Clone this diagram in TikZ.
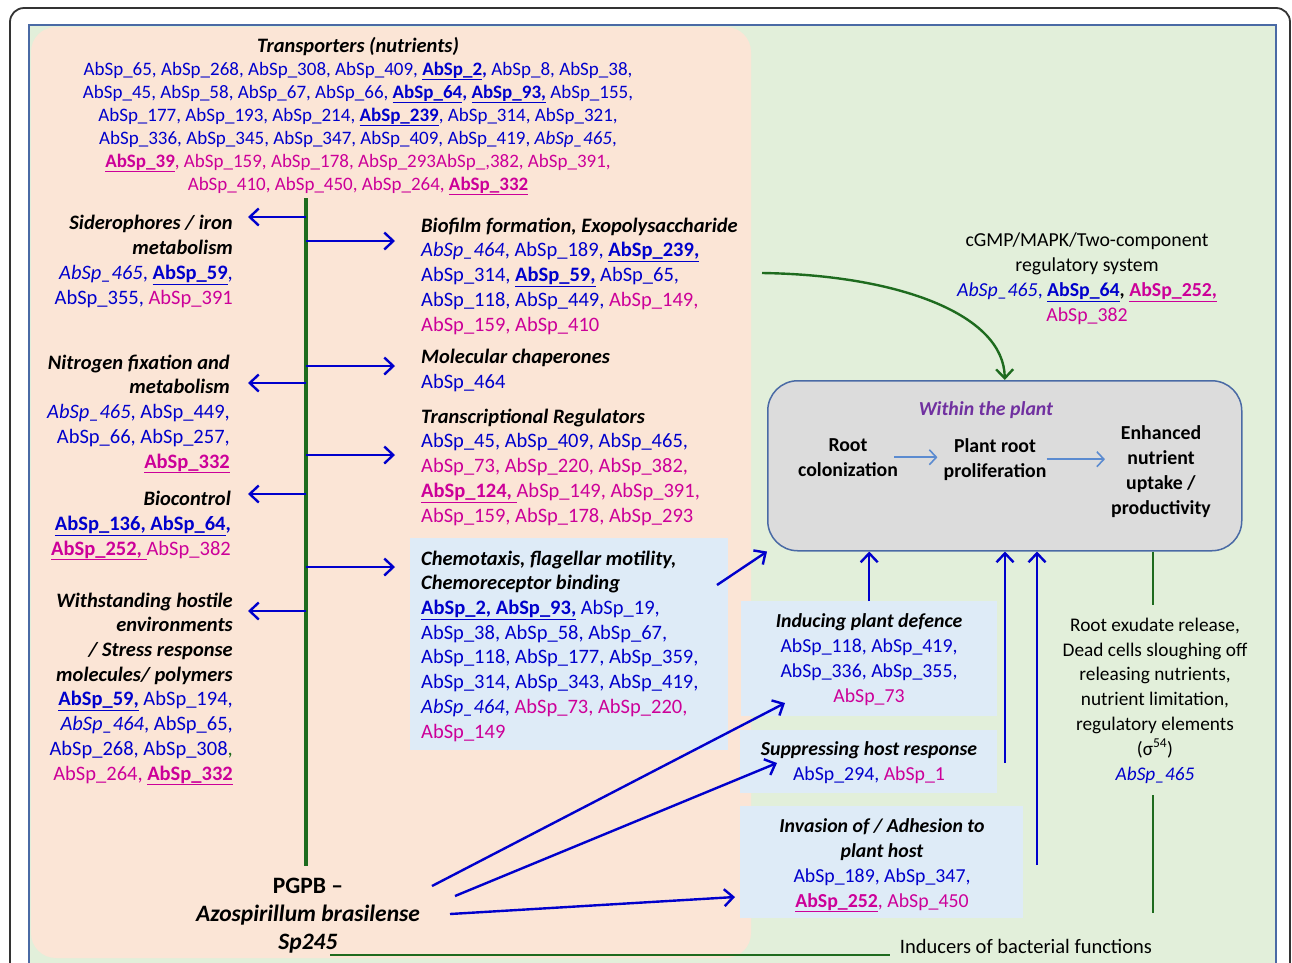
\documentclass[tikz,border=0pt]{standalone}
\usepackage{fontspec}
\setmainfont{Carlito}
\usepackage{xcolor}
\usetikzlibrary{arrows.meta}

\definecolor{abblue}{HTML}{0000CC}
\definecolor{abmag}{HTML}{CC0099}
\definecolor{abgreen}{HTML}{1E6B1E}
\definecolor{peach}{HTML}{FBE5D6}
\definecolor{leaf}{HTML}{E2EFDA}
\definecolor{paleblue}{HTML}{DEEBF7}
\definecolor{plantgray}{HTML}{DCDCDC}
\definecolor{frameblue}{HTML}{4A6AA5}
\definecolor{lightarrow}{HTML}{5B8BD0}
\definecolor{purpletitle}{HTML}{7030A0}

\newcommand{\bl}[1]{\textcolor{abblue}{#1}}
\newcommand{\mg}[1]{\textcolor{abmag}{#1}}
\newcommand{\ubf}[1]{\underline{\textbf{#1}}}
\newcommand{\ttl}[1]{\textbf{\textit{#1}}}

\begin{document}
\begin{tikzpicture}[x=1pt, y=-1pt,
    txt/.style={inner sep=0pt, font=\fontsize{20.5}{24.7}\selectfont},
    rtxt/.style={inner sep=0pt, font=\fontsize{19.8}{24.8}\selectfont},
    bluebox/.style={fill=paleblue, inner sep=0pt, anchor=north west},
    barrow/.style={draw=abblue, line width=2.4pt, -{Straight Barb[length=9pt,width=17pt]}},
    lbarrow/.style={draw=lightarrow, line width=1.6pt, -{Straight Barb[length=7pt,width=15pt]}},
    grline/.style={draw=abgreen, line width=2.4pt}]
    \useasboundingbox (0,0) rectangle (1292,962);

    % Backgrounds
    \draw[line width=1.8pt, draw=black!80, rounded corners=14] (10,1000) -- (10,8) -- (1290,8) -- (1290,1000);
    \draw[fill=leaf, draw=frameblue, line width=1.5pt] (29,25) rectangle (1276,1000);
    \fill[peach, rounded corners=25] (31,27) rectangle (751,958);

    % Boxes
    \node[bluebox, minimum width=318, minimum height=212] (chemobox) at (410,538) {};
    \node[bluebox, minimum width=256, minimum height=115] (induce) at (741,601) {};
    \node[bluebox, minimum width=257, minimum height=63] (supp) at (740,730) {};
    \node[bluebox, minimum width=283, minimum height=112] (invade) at (740,806) {};
    \node[draw=frameblue, line width=1.5pt, fill=plantgray, rounded corners=30,
          minimum width=474, minimum height=170, anchor=north west] (plant) at (767,380) {};

    % Bacterial functions (base = last line)
    \node[txt, font=\fontsize{19}{23}\selectfont, align=center, anchor=base] (trans) at (358,190)
        {\ttl{\fontsize{20.5}{23}\selectfont Transporters (nutrients)}\\
         \bl{AbSp\_65, AbSp\_268, AbSp\_308, AbSp\_409, \ubf{AbSp\_2}\textbf{,} AbSp\_8, AbSp\_38,}\\
         \bl{AbSp\_45, AbSp\_58, AbSp\_67, AbSp\_66, \ubf{AbSp\_64}\textbf{,} \ubf{AbSp\_93,} AbSp\_155,}\\
         \bl{AbSp\_177, AbSp\_193, AbSp\_214, \ubf{AbSp\_239}, AbSp\_314, AbSp\_321,}\\
         \bl{AbSp\_336, AbSp\_345, AbSp\_347, AbSp\_409, AbSp\_419, \textit{AbSp\_465},}\\
         \mg{\ubf{AbSp\_39}, AbSp\_159, AbSp\_178, AbSp\_293AbSp\_,382, AbSp\_391,}\\
         \mg{AbSp\_410, AbSp\_450, AbSp\_264, \ubf{AbSp\_332}}};
    \node[txt, align=right, anchor=base east] (sidero) at (233,304)
        {\ttl{Siderophores / iron}\\ \ttl{metabolism}\\
         \bl{\textit{AbSp\_465}, \ubf{AbSp\_59},}\\ \bl{AbSp\_355,} \mg{AbSp\_391}};
    \node[txt, align=right, anchor=base east] (nitro) at (230,468)
        {\ttl{Nitrogen fixation and}\\ \ttl{metabolism}\\
         \bl{\textit{AbSp\_465}, AbSp\_449,}\\ \bl{AbSp\_66, AbSp\_257,}\\ \mg{\ubf{AbSp\_332}}};
    \node[txt, align=right, anchor=base east] (bioctl) at (231,555)
        {\ttl{Biocontrol}\\ \bl{\ubf{AbSp\_136, AbSp\_64}\textbf{,}}\\ \mg{\ubf{AbSp\_252, }AbSp\_382}};
    \node[txt, align=right, anchor=base east] (hostile) at (233,780)
        {\ttl{Withstanding hostile}\\ \ttl{environments}\\ \ttl{/ Stress response}\\ \ttl{molecules/ polymers}\\
         \bl{\ubf{AbSp\_59,} AbSp\_194,}\\ \bl{\textit{AbSp\_464}, AbSp\_65,}\\
         \bl{AbSp\_268, AbSp\_308}\textcolor{abgreen}{,}\\ \mg{AbSp\_264, \ubf{AbSp\_332}}};
    \node[txt, align=left, anchor=base west] (biofilm) at (421,331)
        {\ttl{Biofilm formation, Exopolysaccharide}\\
         \bl{\textit{AbSp\_464}, AbSp\_189, \ubf{AbSp\_239,}}\\
         \bl{AbSp\_314, \ubf{AbSp\_59,} AbSp\_65,}\\
         \bl{AbSp\_118, AbSp\_449,} \mg{AbSp\_149,}\\
         \mg{AbSp\_159, AbSp\_410}};
    \node[txt, align=left, anchor=base west] (chaper) at (421,388)
        {\ttl{Molecular chaperones}\\ \bl{AbSp\_464}};
    \node[txt, align=left, anchor=base west] (transreg) at (421,522)
        {\ttl{Transcriptional Regulators}\\
         \bl{AbSp\_45, AbSp\_409, AbSp\_465,}\\
         \mg{AbSp\_73, AbSp\_220, AbSp\_382,}\\
         \mg{\ubf{AbSp\_124, }AbSp\_149, AbSp\_391,}\\
         \mg{AbSp\_159, AbSp\_178, AbSp\_293}};
    \node[txt, align=left, anchor=base west] (chemo) at (421,738)
        {\ttl{Chemotaxis, flagellar motility,}\\ \ttl{Chemoreceptor binding}\\
         \bl{\ubf{AbSp\_2, AbSp\_93,} AbSp\_19,}\\
         \bl{AbSp\_38, AbSp\_58, AbSp\_67,}\\
         \bl{AbSp\_118, AbSp\_177, AbSp\_359,}\\
         \bl{AbSp\_314, AbSp\_343, AbSp\_419,}\\
         \bl{\textit{AbSp\_464},} \mg{AbSp\_73, AbSp\_220,}\\
         \mg{AbSp\_149}};

    % Host side
    \node[rtxt, align=center, anchor=base] (cgmp) at (1087,321)
        {cGMP/MAPK/Two-component\\ regulatory system\\
         \bl{\textit{AbSp\_465},} \bl{\ubf{AbSp\_64}}\textbf{,} \mg{\ubf{AbSp\_252,}}\\ \mg{AbSp\_382}};
    \node[rtxt, anchor=base, text=purpletitle] (within) at (986,415) {\ttl{Within the plant}};
    \node[rtxt, align=center, anchor=base] (rootcol) at (848,476) {\textbf{Root}\\ \textbf{colonization}};
    \node[rtxt, align=center, anchor=base] (prolif) at (995,477) {\textbf{Plant root}\\ \textbf{proliferation}};
    \node[rtxt, align=center, anchor=base] (enhance) at (1161,514)
        {\textbf{Enhanced}\\ \textbf{nutrient}\\ \textbf{uptake /}\\ \textbf{productivity}};
    \node[rtxt, align=center, anchor=base] (inducet) at (869,702)
        {\ttl{Inducing plant defence}\\ \bl{AbSp\_118, AbSp\_419,}\\ \bl{AbSp\_336, AbSp\_355,}\\ \mg{AbSp\_73}};
    \node[rtxt, align=center, anchor=base] (suppt) at (869,780)
        {\ttl{Suppressing host response}\\ \bl{AbSp\_294,} \mg{AbSp\_1}};
    \node[rtxt, align=center, anchor=base] (invadet) at (882,907)
        {\ttl{Invasion of / Adhesion to}\\ \ttl{plant host}\\ \bl{AbSp\_189, AbSp\_347,}\\ \mg{\ubf{AbSp\_252}, AbSp\_450}};
    \node[rtxt, align=center, anchor=base, font=\fontsize{19.3}{24.8}\selectfont] (exud) at (1155,780)
        {Root exudate release,\\ Dead cells sloughing off\\ releasing nutrients,\\ nutrient limitation,\\
         regulatory elements\\ (σ\textsuperscript{54})\\ \bl{\textit{AbSp\_465}}};
    \node[txt, align=center, anchor=base, font=\fontsize{23.5}{28}\selectfont] (pgpb) at (308,949)
        {\textbf{PGPB –}\\ \ttl{Azospirillum brasilense}\\ \ttl{Sp245}};
    \node[txt, anchor=base] (inducers) at (1026,953) {Inducers of bacterial functions};

    % Coordinates for free ends
    \coordinate (trunktop) at (306,198);
    \coordinate (trunkbot) at (306,866);
    \coordinate (sidarr) at (248,217);
    \coordinate (nitarr) at (248,383);
    \coordinate (bioarr) at (248,494);
    \coordinate (hosarr) at (248,611);
    \coordinate (filmarr) at (395,241);
    \coordinate (chaparr) at (395,366);
    \coordinate (regarr) at (395,455);
    \coordinate (chemarr) at (395,567);
    \coordinate (curvestart) at (762,273);
    \coordinate (chemout) at (717,585);
    \coordinate (supout) at (1005,763);
    \coordinate (invout) at (1037,865);
    \coordinate (pgpbA) at (432,886);
    \coordinate (pgpbB) at (455,896);
    \coordinate (pgpbC) at (450,914);
    \coordinate (induceend) at (785,703);
    \coordinate (suppend) at (777,763);
    \coordinate (invadeend) at (735,897);
    \coordinate (exudtop) at (1153,605);
    \coordinate (exudbot) at (1153,795);
    \coordinate (exudend) at (1153,913);
    \coordinate (botline) at (330,955);

    % Trunk and branches
    \draw[grline, line width=4pt] (trunktop) -- (trunkbot);
    \draw[barrow] (sidarr -| trunktop) -- (sidarr);
    \draw[barrow] (nitarr -| trunktop) -- (nitarr);
    \draw[barrow] (bioarr -| trunktop) -- (bioarr);
    \draw[barrow] (hosarr -| trunktop) -- (hosarr);
    \draw[barrow] (filmarr -| trunktop) -- (filmarr);
    \draw[barrow] (chaparr -| trunktop) -- (chaparr);
    \draw[barrow] (regarr -| trunktop) -- (regarr);
    \draw[barrow] (chemarr -| trunktop) -- (chemarr);

    % Towards the plant
    \draw[grline, -{Straight Barb[length=9pt,width=17pt]}] (curvestart) .. controls (900,275) and (1004,315) .. (plant.north);
    \draw[barrow] (chemout) -- (plant.south west);
    \draw[barrow] (induce.north) -- (induce.north |- plant.south);
    \draw[barrow] (supout) -- (supout |- plant.south);
    \draw[barrow] (invout) -- (invout |- plant.south);
    \draw[barrow] (pgpbA) -- (induceend);
    \draw[barrow] (pgpbB) -- (suppend);
    \draw[barrow] (pgpbC) -- (invadeend);
    \draw[lbarrow] ([xshift=-4pt]rootcol.east) -- ([xshift=-6pt]rootcol.east -| prolif.west);
    \draw[lbarrow] (prolif.east) -- ([xshift=-6pt]prolif.east -| enhance.west);

    % Inducers
    \draw[grline] (exudtop |- plant.south) -- (exudtop);
    \draw[grline] (exudbot) -- (exudend);
    \draw[grline] (botline) -- ([xshift=-10pt]botline -| inducers.west);
\end{tikzpicture}
\end{document}
